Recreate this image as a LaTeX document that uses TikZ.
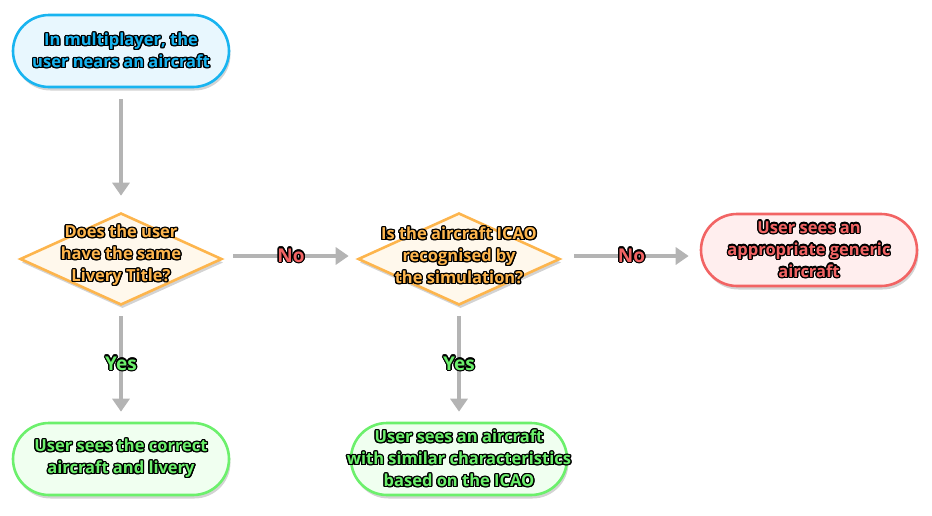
\documentclass[tikz,border=0pt]{standalone}
\usepackage{fontspec}
\setmainfont{Open Sans}
\usepackage[copies]{contour}
\contourlength{1.3pt}
\usetikzlibrary{shapes.geometric,shapes.misc,shadows,arrows.meta}
\definecolor{bluebd}{HTML}{18B4F0}
\definecolor{bluefill}{HTML}{E8F7FE}
\definecolor{orgbd}{HTML}{FDB54D}
\definecolor{orgfill}{HTML}{FFF8EC}
\definecolor{redbd}{HTML}{F26464}
\definecolor{redfill}{HTML}{FFEEEE}
\definecolor{grnbd}{HTML}{6CF06C}
\definecolor{grnfill}{HTML}{F0FFF0}
\definecolor{arrgray}{HTML}{B4B4B4}
\newcommand{\ol}[2]{\contour{black}{\textcolor{#1}{#2}}}
\tikzset{
  txt/.style={font=\bfseries\fontsize{16.5}{22}\selectfont, align=center, inner sep=0pt},
  base/.style={line width=2.6pt,
    drop shadow={opacity=0.35, shadow xshift=1.5pt, shadow yshift=-3.5pt}},
  term/.style={base, rounded rectangle, minimum width=216pt, minimum height=72pt, inner sep=0pt},
  dec/.style={base, diamond, minimum width=202pt, minimum height=92pt, inner sep=0pt},
  conn/.style={draw=arrgray, line width=4pt, -{Triangle[length=13pt,width=17pt]}},
  lbl/.style={font=\bfseries\fontsize{19}{20}\selectfont, inner sep=1pt}
}
\begin{document}
\begin{tikzpicture}[x=1pt,y=-1pt]
\useasboundingbox (0,0) rectangle (932,515);
\node[term, draw=bluebd, fill=bluefill] (start) at (121,51) {};
\node[txt] (startt) at (start.center)
  {\ol{bluebd}{In multiplayer, the}\\\ol{bluebd}{user nears an aircraft}};
\node[dec, draw=orgbd, fill=orgfill] (q1) at (121,259) {};
\node[txt] (q1t) at ([yshift=3pt]q1.center) {\ol{orgbd}{Does the user}\\\ol{orgbd}{have the same}\\\ol{orgbd}{Livery Title?}};
\node[dec, draw=orgbd, fill=orgfill] (q2) at (459,259) {};
\node[txt] (q2t) at ([yshift=3pt]q2.center) {\ol{orgbd}{Is the aircraft ICAO}\\\ol{orgbd}{recognised by}\\\ol{orgbd}{the simulation?}};
\node[term, draw=redbd, fill=redfill] (gen) at (809,250) {};
\node[txt] (gent) at (gen.center)
  {\ol{redbd}{User sees an}\\\ol{redbd}{appropriate generic}\\\ol{redbd}{aircraft}};
\node[term, draw=grnbd, fill=grnfill] (ok) at (121,459) {};
\node[txt] (okt) at (ok.center)
  {\ol{grnbd}{User sees the correct}\\\ol{grnbd}{aircraft and livery}};
\node[term, draw=grnbd, fill=grnfill] (sim) at (459,459) {};
\node[txt] (simt) at (sim.center)
  {\ol{grnbd}{User sees an aircraft}\\\ol{grnbd}{with similar characteristics}\\\ol{grnbd}{based on the ICAO}};
\coordinate (g) at (q2.east -| gen.west);
\draw[conn] ([yshift=-11pt]start.south) -- ([yshift=16pt]q1.north);
\draw[conn] ([xshift=10pt,yshift=3pt]q1.east) -- node[lbl]{\ol{redbd}{No}} ([xshift=-8pt,yshift=3pt]q2.west);
\draw[conn] ([xshift=13pt,yshift=3pt]q2.east) -- node[lbl]{\ol{redbd}{No}} ([xshift=-11pt,yshift=3pt]g);
\draw[conn] ([yshift=-10pt]q1.south) -- node[lbl]{\ol{grnbd}{Yes}} ([yshift=10pt]ok.north);
\draw[conn] ([yshift=-10pt]q2.south) -- node[lbl]{\ol{grnbd}{Yes}} ([yshift=10pt]sim.north);
\end{tikzpicture}
\end{document}
